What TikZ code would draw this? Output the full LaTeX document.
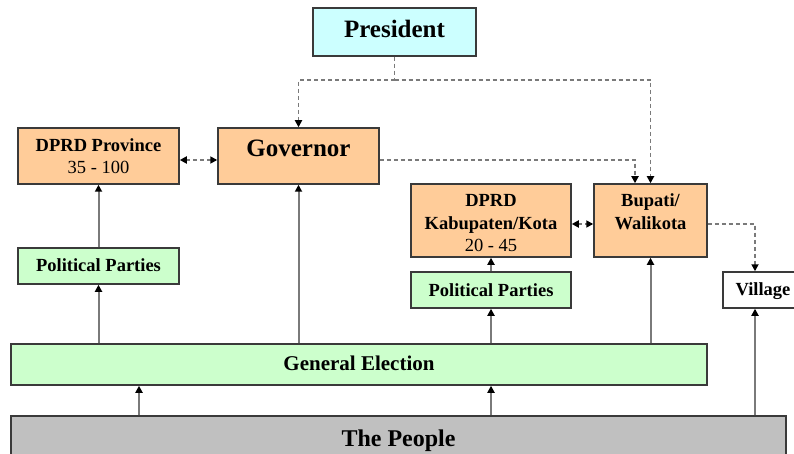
\documentclass[tikz,border=0pt]{standalone}
\usepackage{fontspec}
\setmainfont{Liberation Serif}
\usetikzlibrary{arrows.meta}
\definecolor{presfill}{HTML}{CCFFFF}
\definecolor{orangefill}{HTML}{FFCC99}
\definecolor{greenfill}{HTML}{CCFFCC}
\definecolor{grayfill}{HTML}{C0C0C0}
\definecolor{bordercol}{HTML}{3A3A3A}
\definecolor{linecol}{HTML}{7A7A7A}
\begin{document}
\begin{tikzpicture}[x=1pt,y=-1pt,
  >={Triangle[length=7pt,width=7pt,color=black]},
  box/.style={draw=bordercol,line width=1.5pt,inner sep=0pt},
  sline/.style={draw=linecol,line width=2pt},
  dline/.style={draw=linecol,line width=1.7pt,dash pattern=on 4pt off 3pt},
  smalltxt/.style={font=\fontsize{18.5}{22}\selectfont\bfseries,inner sep=0pt,anchor=base},
  smallreg/.style={font=\fontsize{18.5}{22}\selectfont,inner sep=0pt,anchor=base},
  bigtxt/.style={font=\fontsize{25}{30}\selectfont\bfseries,inner sep=0pt,anchor=base},
  getxt/.style={font=\fontsize{21}{25}\selectfont\bfseries,inner sep=0pt,anchor=base},
  ppltxt/.style={font=\fontsize{24}{28}\selectfont\bfseries,inner sep=0pt,anchor=base}]
\useasboundingbox (0,0) rectangle (794,454);
\clip (0,0) rectangle (794,454);
\fill[white] (0,0) rectangle (794,454);

% boxes
\node[box,fill=presfill,minimum width=163pt,minimum height=48pt] (pres) at (394.5,32) {};
\node[box,fill=orangefill,minimum width=161pt,minimum height=56pt] (dprov) at (98.5,156) {};
\node[box,fill=orangefill,minimum width=161pt,minimum height=56pt] (gov) at (298.5,156) {};
\node[box,fill=greenfill,minimum width=161pt,minimum height=36pt] (pp1) at (98.5,266) {};
\node[box,fill=orangefill,minimum width=160pt,minimum height=73pt] (dkab) at (491,220.5) {};
\node[box,fill=orangefill,minimum width=113pt,minimum height=73pt] (bup) at (650.5,220.5) {};
\node[box,fill=greenfill,minimum width=160pt,minimum height=36pt] (pp2) at (491,290) {};
\node[box,fill=white,minimum width=80pt,minimum height=36pt] (vil) at (763,290) {};
\node[box,fill=greenfill,minimum width=696pt,minimum height=41pt] (ge) at (359,364.5) {};
\node[box,fill=grayfill,minimum width=775pt,minimum height=60pt] (ppl) at (398.5,446) {};

% texts
\node[bigtxt] (presT) at (394.5,38) {President};
\node[smalltxt] (dprovT1) at (98.5,152) {DPRD Province};
\node[smallreg] (dprovT2) at (98.5,173.3) {35 - 100};
\node[bigtxt] (govT) at (298.5,157) {Governor};
\node[smalltxt] (pp1T) at (98.5,271.7) {Political Parties};
\node[smalltxt] (dkabT1) at (491,207) {DPRD};
\node[smalltxt] (dkabT2) at (491,229.5) {Kabupaten/Kota};
\node[smallreg] (dkabT3) at (491,251.7) {20 - 45};
\node[smalltxt] (bupT1) at (650.5,207) {Bupati/};
\node[smalltxt] (bupT2) at (650.5,229.5) {Walikota};
\node[smalltxt] (pp2T) at (491,296) {Political Parties};
\node[smalltxt] (vilT) at (763,295) {Village};
\node[getxt] (geT) at (359,370) {General Election};
\node[ppltxt] (pplT) at (398.5,446) {The People};

% dashed connectors
\coordinate (pj) at (394.5,80);
\draw[dline] (pres.south) -- (pj);
\draw[dline,->] (pj) -| (gov.north);
\draw[dline,->] (pj) -| (bup.north);
\draw[dline,->] ([yshift=-4pt]gov.east) -| ([xshift=-15.5pt]bup.north);
\draw[dline,<->] ([yshift=-4pt]dprov.east) -- ([yshift=-4pt]gov.west);
\draw[dline,<->] ([yshift=-3.5pt]dkab.east) -- ([yshift=-3.5pt]bup.west);
\draw[dline,->] ([yshift=-3.5pt]bup.east) -| ([xshift=-8pt]vil.north);

% solid connectors
\coordinate (e1) at (139,0);
\coordinate (e2) at (755,0);
\draw[sline,->] (pp1.north) -- (dprov.south);
\draw[sline,->] (ge.north -| pp1.south) -- (pp1.south);
\draw[sline,->] (ge.north -| gov.south) -- (gov.south);
\draw[sline,->] (pp2.north) -- (dkab.south);
\draw[sline,->] (ge.north -| pp2.south) -- (pp2.south);
\draw[sline,->] (ge.north -| bup.south) -- (bup.south);
\draw[sline,->] (ppl.north -| e1) -- (ge.south -| e1);
\draw[sline,->] (ppl.north -| pp2.south) -- (ge.south -| pp2.south);
\draw[sline,->] (ppl.north -| e2) -- ([xshift=-8pt]vil.south);
\end{tikzpicture}
\end{document}
